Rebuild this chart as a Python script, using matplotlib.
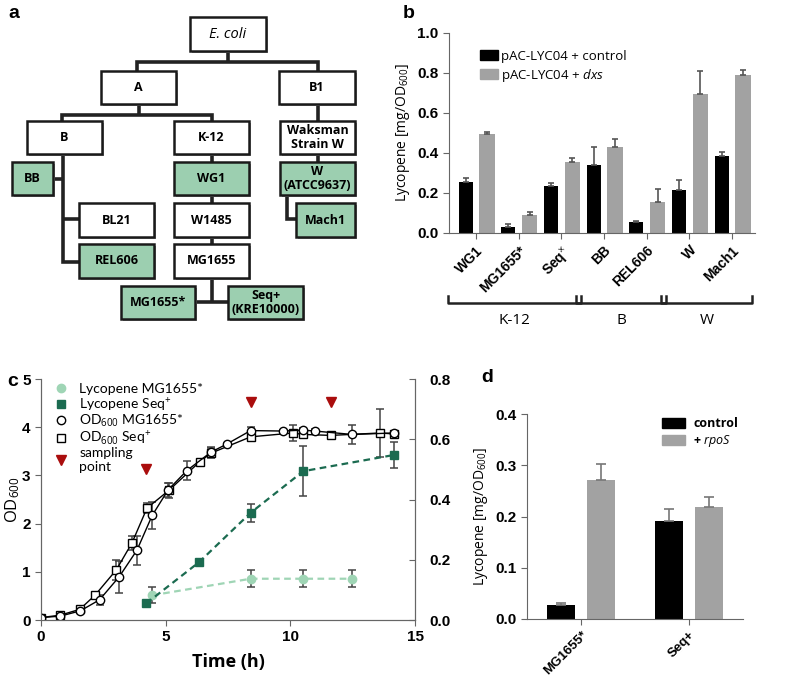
import numpy as np
import matplotlib
matplotlib.use('Agg')
import matplotlib.pyplot as plt
from matplotlib.patches import Rectangle, Patch
from matplotlib.lines import Line2D
import matplotlib.transforms as mtransforms

plt.rcParams['font.family'] = ['Liberation Sans', 'DejaVu Sans']
plt.rcParams['mathtext.fontset'] = 'custom'
plt.rcParams['mathtext.rm'] = 'Open Sans'
plt.rcParams['mathtext.it'] = 'Open Sans:italic'
plt.rcParams['mathtext.bf'] = 'Liberation Sans:bold'

# ---------------- données ----------------
# panneau a : arbre des souches (label, x0, y0, x1, y1, vert)
tree_boxes = [
    ('E. coli', 190, 17, 266, 51, False),
    ('A', 101, 71, 176, 104, False),
    ('B1', 279, 71, 355, 104, False),
    ('B', 27, 121, 102, 154, False),
    ('K-12', 174, 121, 249, 154, False),
    ('Waksman\nStrain W', 280, 121, 355, 154, False),
    ('BB', 12, 162, 53, 195, True),
    ('WG1', 174, 162, 249, 195, True),
    ('W\n(ATCC9637)', 280, 162, 355, 195, True),
    ('BL21', 79, 203, 154, 237, False),
    ('W1485', 174, 203, 249, 237, False),
    ('Mach1', 296, 203, 355, 237, True),
    ('REL606', 79, 244, 154, 278, True),
    ('MG1655', 174, 244, 249, 278, False),
    ('MG1655*', 121, 286, 195, 319, True),
    ('Seq+\n(KRE10000)', 228, 286, 303, 319, True),
]
tree_lines = [
    [(228, 51), (228, 62)],
    [(137, 71), (137, 62), (318, 62), (318, 71)],
    [(139, 104), (139, 115)],
    [(62, 121), (62, 115), (212, 115), (212, 121)],
    [(318, 104), (318, 121)],
    [(63, 154), (63, 262), (79, 262)],
    [(53, 179), (63, 179)],
    [(63, 219), (79, 219)],
    [(212, 154), (212, 162)],
    [(212, 195), (212, 203)],
    [(212, 237), (212, 244)],
    [(212, 278), (212, 302)],
    [(195, 302), (228, 302)],
    [(318, 154), (318, 162)],
    [(287, 195), (287, 219), (296, 219)],
]

# panneau b
strains_b = ['WG1', 'MG1655*', 'Seq$^{\\times}$', 'BB', 'REL606', 'W', 'Mach1']
ctrl_b = [0.255, 0.03, 0.235, 0.34, 0.055, 0.215, 0.385]
ctrl_b_err = [0.02, 0.015, 0.016, 0.088, 0.006, 0.052, 0.02]
dxs_b = [0.495, 0.09, 0.355, 0.43, 0.155, 0.695, 0.79]
dxs_b_err = [0.01, 0.017, 0.022, 0.04, 0.067, 0.117, 0.027]
groups_b = ['K-12', 'B', 'W']
group_span_b = [(0, 2), (3, 4), (5, 6)]

# panneau c
t_od_mg = [0, 0.77, 1.58, 2.35, 3.14, 3.85, 4.46, 5.1, 5.85, 6.81, 7.45, 8.41, 9.71, 10.5, 10.99, 12.47, 14.16]
od_mg = [0.05, 0.08, 0.19, 0.42, 0.9, 1.45, 2.17, 2.7, 3.1, 3.48, 3.65, 3.93, 3.92, 3.94, 3.92, 3.85, 3.88]
od_mg_err = [0.02, 0.02, 0.04, 0.1, 0.33, 0.3, 0.28, 0.15, 0.2, 0.1, 0.03, 0.07, 0.03, 0.05, 0.04, 0.19, 0.05]
t_od_seq = [0, 0.77, 1.55, 2.16, 3.02, 3.65, 4.25, 5.13, 6.36, 6.81, 8.41, 10.1, 10.5, 11.63, 13.6, 14.16]
od_seq = [0.05, 0.1, 0.22, 0.51, 1.04, 1.6, 2.32, 2.69, 3.28, 3.46, 3.8, 3.88, 3.85, 3.83, 3.88, 3.86]
od_seq_err = [0.02, 0.03, 0.04, 0.05, 0.2, 0.15, 0.1, 0.15, 0.05, 0.1, 0.05, 0.16, 0.05, 0.03, 0.5, 0.05]
t_lyc_mg = [4.46, 8.41, 10.52, 12.47]
lyc_mg = [0.082, 0.137, 0.137, 0.137]
lyc_mg_err = [0.027, 0.028, 0.028, 0.028]
t_lyc_seq = [4.22, 6.34, 8.41, 10.52, 14.17]
lyc_seq = [0.055, 0.192, 0.356, 0.494, 0.548]
lyc_seq_err = [0.0, 0.0, 0.03, 0.082, 0.042]
t_sampling = [4.22, 8.41, 11.65]
y_sampling = [3.14, 4.53, 4.53]

# panneau d
strains_d = ['MG1655*', 'Seq+']
ctrl_d = [0.027, 0.191]
ctrl_d_err = [0.005, 0.024]
rpos_d = [0.272, 0.218]
rpos_d_err = [0.03, 0.021]

W, H = 785, 683
fig = plt.figure(figsize=(W/100, H/100), dpi=100)

def px_axes(x0, y0, x1, y1):
    return fig.add_axes([x0/W, 1 - y1/H, (x1-x0)/W, (y1-y0)/H])

label_font = {'family': 'Open Sans'}
green_box = '#9ccfb0'
dark_green = '#1b6b50'
light_green = '#9fd5b5'
grey_bar = '#a2a2a2'
spine_col = '#666666'

# ---------------- a ----------------
axa = px_axes(0, 0, 400, 340)
axa.set_xlim(0, 400)
axa.set_ylim(340, 0)
axa.axis('off')
for pts in tree_lines:
    xs, ys = zip(*pts)
    axa.plot(xs, ys, color='#222222', lw=2.6, solid_capstyle='butt', solid_joinstyle='miter', zorder=1)
for lab, x0, y0, x1, y1, gr in tree_boxes:
    axa.add_patch(Rectangle((x0+1.5, y0+1.5), x1-x0, y1-y0, color='#9a9a9a', zorder=2, lw=0))
    axa.add_patch(Rectangle((x0, y0), x1-x0, y1-y0, facecolor=green_box if gr else 'white',
                            edgecolor='#1a1a1a', lw=1.8, zorder=3))
    ecoli = lab == 'E. coli'
    axa.text((x0+x1)/2, (y0+y1)/2, lab, ha='center', va='center', fontsize=10.5 if ecoli else 9,
             fontweight='normal' if ecoli else 'bold', style='italic' if ecoli else 'normal',
             family='Open Sans', zorder=4, linespacing=1.1)
fig.text(8/W, 1 - 14/H, 'a', fontsize=14, fontweight='bold', va='center')

# ---------------- b ----------------
axb = px_axes(449, 33, 755, 233)
x = np.arange(len(strains_b))
axb.bar(x - 0.24, ctrl_b, 0.33, color='black', yerr=[np.zeros(7), ctrl_b_err],
        error_kw=dict(ecolor='#555555', capsize=2.5, elinewidth=1.2, capthick=1.2), zorder=2)
axb.bar(x + 0.26, dxs_b, 0.36, color=grey_bar, yerr=[np.zeros(7), dxs_b_err],
        error_kw=dict(ecolor='#555555', capsize=2.5, elinewidth=1.2, capthick=1.2), zorder=2)
axb.set_xlim(-0.63, 6.54)
axb.set_ylim(0, 1.0)
axb.set_yticks(np.arange(0, 1.01, 0.2))
axb.set_yticklabels([f'{v:.1f}' for v in np.arange(0, 1.01, 0.2)], fontweight='bold', fontsize=11)
axb.set_xticks(x)
axb.set_xticklabels(strains_b, rotation=45, ha='right', rotation_mode='anchor', fontweight='bold', fontsize=10)
for s in ['top', 'right']:
    axb.spines[s].set_visible(False)
for s in ['left', 'bottom']:
    axb.spines[s].set_color(spine_col)
axb.tick_params(colors=spine_col, labelcolor='black', length=4)
axb.set_ylabel('Lycopene [mg/OD$_{600}$]', fontsize=10, labelpad=4, **label_font)
axb.legend(handles=[Patch(color='black'), Patch(color=grey_bar)],
           labels=['pAC-LYC04 + control', 'pAC-LYC04 + $\\mathit{dxs}$'],
           loc='upper left', bbox_to_anchor=(0.10, 0.915), frameon=False, borderpad=0, borderaxespad=0,
           prop={'family': 'Open Sans', 'size': 9.5}, handlelength=1.4, handleheight=0.8,
           labelspacing=0.3, handletextpad=0.2)
trans = mtransforms.blended_transform_factory(axb.transData, axb.transAxes)
for name, (g0, g1) in zip(groups_b, group_span_b):
    xl, xr = g0 - 0.66, g1 + 0.46
    axb.plot([xl, xl, xr, xr], [-0.315, -0.35, -0.35, -0.315], transform=trans, color='#222222',
             lw=1.8, clip_on=False)
    axb.text((xl + xr)/2, -0.44, name, transform=trans, ha='center', va='center', fontsize=11, **label_font)
fig.text(403/W, 1 - 14/H, 'b', fontsize=14, fontweight='bold', va='center')

# ---------------- c ----------------
axc = px_axes(41, 379, 415, 620)
axc2 = axc.twinx()
err_kw = dict(ecolor='#444444', capsize=3, elinewidth=1.1, capthick=1.1)
axc.errorbar(t_od_mg, od_mg, yerr=od_mg_err, fmt='none', zorder=2, **err_kw)
axc.errorbar(t_od_seq, od_seq, yerr=od_seq_err, fmt='none', zorder=2, **err_kw)
axc.plot(t_od_seq, od_seq, '-s', color='black', mfc='white', mec='black', ms=6, lw=1.0, zorder=3)
axc.plot(t_od_mg, od_mg, '-o', color='black', mfc='white', mec='black', ms=6, lw=1.0, zorder=3)
axc.plot(t_sampling, y_sampling, 'v', color='#aa0d0d', ms=7, zorder=3, clip_on=False)
axc2.errorbar(t_lyc_mg, lyc_mg, yerr=lyc_mg_err, fmt='none', zorder=2, **err_kw)
axc2.errorbar(t_lyc_seq, lyc_seq, yerr=lyc_seq_err, fmt='none', zorder=2, **err_kw)
axc2.plot(t_lyc_mg, lyc_mg, '--o', color=light_green, ms=6, lw=1.6, dashes=(3, 2), zorder=3)
axc2.plot(t_lyc_seq, lyc_seq, '--s', color=dark_green, ms=6, lw=1.6, dashes=(3, 2), zorder=3)
axc.set_xlim(0, 15)
axc.set_ylim(0, 5)
axc2.set_ylim(0, 0.8)
axc.set_xticks([0, 5, 10, 15])
axc.set_xticklabels(['0', '5', '10', '15'], fontweight='bold', fontsize=11)
axc.set_yticks(range(6))
axc.set_yticklabels([str(v) for v in range(6)], fontweight='bold', fontsize=11)
axc2.set_yticks(np.arange(0, 0.81, 0.2))
axc2.set_yticklabels([f'{v:.1f}' for v in np.arange(0, 0.81, 0.2)], fontweight='bold', fontsize=11)
axc.spines['top'].set_visible(False)
axc2.spines['top'].set_visible(False)
for a in (axc, axc2):
    for s in ['left', 'bottom', 'right']:
        a.spines[s].set_color(spine_col)
axc.tick_params(colors=spine_col, labelcolor='black', length=4)
axc2.tick_params(colors=spine_col, labelcolor='black', direction='in', length=4, pad=10)
axc.set_xlabel('Time (h)', fontsize=13, fontweight='bold', labelpad=6, family='Open Sans')
axc.set_ylabel('OD$_{600}$', fontsize=12, **label_font)
axc.yaxis.set_label_coords(-0.052, 0.5)
hc = [Line2D([], [], ls='none', marker='o', color=light_green, ms=6),
      Line2D([], [], ls='none', marker='s', color=dark_green, ms=6),
      Line2D([], [], ls='none', marker='o', mfc='white', mec='black', ms=6),
      Line2D([], [], ls='none', marker='s', mfc='white', mec='black', ms=6),
      Line2D([], [], ls='none', marker='v', color='#aa0d0d', ms=7)]
axc.legend(handles=hc, labels=['Lycopene MG1655*', 'Lycopene Seq$^{+}$', 'OD$_{600}$ MG1655*',
                               'OD$_{600}$ Seq$^{+}$', 'sampling\npoint'],
           loc='upper left', bbox_to_anchor=(0.035, 0.985), frameon=False, borderpad=0,
           prop={'family': 'Lato', 'size': 10}, handlelength=1.0, handletextpad=0.8,
           labelspacing=0.0, borderaxespad=0)
fig.text(7/W, 1 - 381/H, 'c', fontsize=14, fontweight='bold', va='center')

# ---------------- d ----------------
axd = px_axes(527, 414, 743, 619)
xd = np.arange(len(strains_d))
axd.bar(xd - 0.185, ctrl_d, 0.26, color='black', yerr=[np.zeros(2), ctrl_d_err],
        error_kw=dict(ecolor='#777777', capsize=3.5, elinewidth=1.2, capthick=1.2), zorder=2)
axd.bar(xd + 0.185, rpos_d, 0.26, color=grey_bar, yerr=[np.zeros(2), rpos_d_err],
        error_kw=dict(ecolor='#777777', capsize=3.5, elinewidth=1.2, capthick=1.2), zorder=2)
axd.set_xlim(-0.5, 1.5)
axd.set_ylim(0, 0.4)
axd.set_yticks(np.arange(0, 0.41, 0.1))
axd.set_yticklabels([f'{v:.1f}' for v in np.arange(0, 0.41, 0.1)], fontweight='bold', fontsize=11)
axd.set_xticks(xd)
axd.set_xticklabels(strains_d, rotation=45, ha='right', rotation_mode='anchor', fontweight='bold', fontsize=9.5)
for s in ['top', 'right']:
    axd.spines[s].set_visible(False)
for s in ['left', 'bottom']:
    axd.spines[s].set_color(spine_col)
axd.tick_params(colors=spine_col, labelcolor='black', length=4)
axd.set_ylabel('Lycopene [mg/OD$_{600}$]', fontsize=10, labelpad=4, **label_font)
axd.legend(handles=[Patch(color='black'), Patch(color=grey_bar)],
           labels=['control', '+ $\\mathit{rpoS}$'],
           loc='upper left', bbox_to_anchor=(0.625, 0.985), frameon=False, borderpad=0, borderaxespad=0,
           prop={'family': 'Open Sans', 'size': 9, 'weight': 'bold'}, handlelength=1.8, handleheight=0.9,
           labelspacing=0.25, handletextpad=0.7)
fig.text(481/W, 1 - 378/H, 'd', fontsize=14, fontweight='bold', va='center')

fig.savefig('out.png', dpi=100)
